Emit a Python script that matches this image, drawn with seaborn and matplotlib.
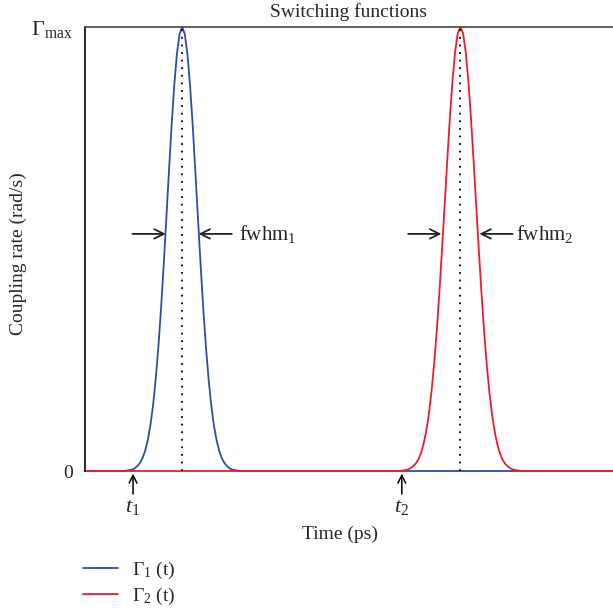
import matplotlib
matplotlib.use("Agg")
import matplotlib.pyplot as plt
import seaborn as sns
import pandas as pd

# ---------------- data ----------------
series_labels = ["Γ$_1$ (t)", "Γ$_2$ (t)"]
series_colors = ["#2b4ea6", "#ee1c2a"]

time_1 = [0.0, 0.74, 0.79, 0.84, 0.89, 0.94, 0.99, 1.04, 1.09, 1.14, 1.19, 1.24,
          1.29, 1.34, 1.39, 1.44, 1.49, 1.54, 1.59, 1.64, 1.69, 1.74, 1.79, 1.84,
          1.89, 1.94, 1.99, 2.04, 2.09, 2.14, 2.19, 2.24, 2.29, 2.34, 2.39, 2.44,
          2.49, 2.54, 2.59, 2.64, 2.69, 2.74, 2.79, 2.84, 2.89, 2.94, 10.0]
rate_1 = [0.0, 0.000, 0.001, 0.002, 0.003, 0.006, 0.011, 0.018, 0.029, 0.046, 0.070,
          0.104, 0.149, 0.208, 0.280, 0.366, 0.463, 0.568, 0.675, 0.778, 0.868,
          0.939, 0.984, 1.000, 0.984, 0.939, 0.868, 0.778, 0.675, 0.568, 0.463,
          0.366, 0.280, 0.208, 0.149, 0.104, 0.070, 0.046, 0.029, 0.018, 0.011,
          0.006, 0.003, 0.002, 0.001, 0.000, 0.0]

time_2 = [0.0, 5.96, 6.01, 6.06, 6.11, 6.16, 6.21, 6.26, 6.31, 6.36, 6.41, 6.46,
          6.51, 6.56, 6.61, 6.66, 6.71, 6.76, 6.81, 6.86, 6.91, 6.96, 7.01, 7.06,
          7.11, 7.16, 7.21, 7.26, 7.31, 7.36, 7.41, 7.46, 7.51, 7.56, 7.61, 7.66,
          7.71, 7.76, 7.81, 7.86, 7.91, 7.96, 8.01, 8.06, 8.11, 8.16, 8.21, 8.26, 10.0]
rate_2 = [0.0, 0.000, 0.001, 0.002, 0.003, 0.006, 0.010, 0.016, 0.025, 0.039, 0.060,
          0.088, 0.126, 0.176, 0.238, 0.312, 0.399, 0.495, 0.596, 0.698, 0.795,
          0.879, 0.944, 0.986, 1.000, 0.986, 0.944, 0.879, 0.795, 0.698, 0.596,
          0.495, 0.399, 0.312, 0.238, 0.176, 0.126, 0.088, 0.060, 0.039, 0.025,
          0.016, 0.010, 0.006, 0.003, 0.002, 0.001, 0.000, 0.0]

peak_times = [1.84, 7.11]
start_times = [0.91, 6.0]
start_labels = ["$t_1$", "$t_2$"]
fwhm_labels = ["fwhm$_1$", "fwhm$_2$"]
fwhm_half = [0.31, 0.36]          # half width of the arrows' gap at the marker level
fwhm_level = 0.534
ytick_vals = [0, 1]
ytick_labels = ["0", "Γ$_{\\mathrm{max}}$"]

df = pd.concat([
    pd.DataFrame({"time": time_1, "rate": rate_1, "series": series_labels[0]}),
    pd.DataFrame({"time": time_2, "rate": rate_2, "series": series_labels[1]}),
], ignore_index=True)

# ---------------- style ----------------
sns.set_theme(style="white")
plt.rcParams["font.family"] = ["Liberation Serif", "DejaVu Serif"]
plt.rcParams["mathtext.fontset"] = "custom"
plt.rcParams["mathtext.rm"] = "Liberation Serif"
plt.rcParams["mathtext.it"] = "Liberation Serif:italic"
plt.rcParams["mathtext.bf"] = "Liberation Serif:bold"
FS = 14

fig = plt.figure(figsize=(6.13, 6.12), dpi=100)
ax = fig.add_axes([85 / 613, 1 - 471 / 612, 528 / 613, 444 / 612])

sns.lineplot(data=df, x="time", y="rate", hue="series", hue_order=series_labels,
             palette=dict(zip(series_labels, series_colors)), estimator=None,
             sort=False, lw=1.3, ax=ax, clip_on=False)

ax.set_xlim(0, 10)
ax.set_ylim(0, 1)

# spines
for s in ["right", "bottom"]:
    ax.spines[s].set_visible(False)
ax.spines["left"].set_color("black")
ax.spines["left"].set_linewidth(1.2)
ax.spines["top"].set_color("#444444")
ax.spines["top"].set_linewidth(1.2)

ax.set_xticks([])
ax.set_yticks(ytick_vals)
ax.set_yticklabels(ytick_labels, fontsize=FS)
ax.get_yticklabels()[1].set_fontsize(16)
ax.tick_params(axis="y", length=0, pad=9)

# dotted peak lines
ax.vlines(peak_times, 0, 1, colors="black", linestyles=(0, (1, 3.2)), lw=1.3)

# start arrows
for t, lab in zip(start_times, start_labels):
    ax.annotate("", xy=(t, -0.006), xytext=(t, -0.052),
                arrowprops=dict(arrowstyle="->", color="black", lw=1.1,
                                mutation_scale=14, shrinkA=0, shrinkB=0),
                annotation_clip=False)
    ax.text(t, -0.082, lab, fontsize=FS + 2, ha="center", va="center")

# fwhm arrows
arrow_len = 0.63
for c, hw, lab, gap in zip(peak_times, fwhm_half, fwhm_labels, [0.14, 0.07]):
    ax.annotate("", xy=(c - hw, fwhm_level), xytext=(c - hw - arrow_len, fwhm_level),
                arrowprops=dict(arrowstyle="->", color="#222222", lw=1.3,
                                mutation_scale=17, shrinkA=0, shrinkB=0))
    ax.annotate("", xy=(c + hw, fwhm_level), xytext=(c + hw + arrow_len, fwhm_level),
                arrowprops=dict(arrowstyle="->", color="#222222", lw=1.3,
                                mutation_scale=17, shrinkA=0, shrinkB=0))
    ax.text(c + hw + arrow_len + gap, fwhm_level, lab, fontsize=FS + 1,
            ha="left", va="center")

# labels
ax.text(0.5, 1.034, "Switching functions", transform=ax.transAxes,
        fontsize=FS, ha="center", va="center")
ax.set_xlabel("Time (ps)", fontsize=FS)
ax.xaxis.set_label_coords(0.483, -0.142)
ax.xaxis.label.set_va("center")
ax.set_ylabel("Coupling rate (rad/s)", fontsize=FS)
ax.yaxis.set_label_coords(-0.127, 0.49)
ax.yaxis.label.set_va("center")

# legend below
sns.move_legend(ax, "upper left", bbox_to_anchor=(83 / 613, 1 - 560 / 612),
                bbox_transform=fig.transFigure, frameon=False, title=None,
                fontsize=FS, handlelength=1.8, handletextpad=0.72,
                labelspacing=0.25, borderpad=0, borderaxespad=0)

fig.savefig("out.png", dpi=100)
